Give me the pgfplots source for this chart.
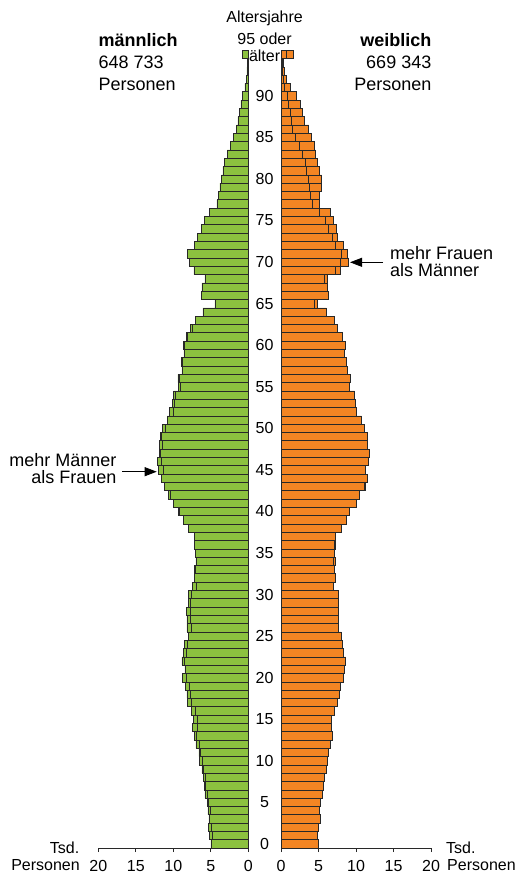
\documentclass[border=0pt]{standalone}
\usepackage{pgfplots}
\pgfplotsset{compat=1.18}
\usepackage{pgfplotstable}
\usepackage{fontspec}
\setmainfont{Liberation Sans}
\usetikzlibrary{arrows.meta}
\definecolor{mgreen}{RGB}{140,193,63}
\definecolor{forange}{RGB}{243,133,35}
\definecolor{edge}{RGB}{40,40,40}
\newcommand\hfont{\fontsize{18}{17.3}\selectfont}
\newcommand\mfont{\fontsize{16}{18}\selectfont}

\pgfplotstableread{
age m f mn
0 5.0 5.0 5.0
1 5.2 4.85 4.85
2 5.3 5.0 5.0
3 5.25 5.2 5.2
4 5.4 5.05 5.05
5 5.5 5.3 5.3
6 5.8 5.5 5.5
7 5.9 5.7 5.7
8 6.0 5.8 5.8
9 6.2 6.0 6.0
10 6.5 6.2 6.2
11 6.6 6.35 6.35
12 7.0 6.6 6.6
13 7.2 6.9 6.9
14 7.5 6.75 6.75
15 7.3 6.75 6.75
16 7.55 7.1 7.1
17 8.1 7.55 7.55
18 8.2 7.8 7.8
19 8.35 7.9 7.9
20 8.75 8.3 8.3
21 8.45 8.4 8.4
22 8.85 8.6 8.6
23 8.65 8.3 8.3
24 8.5 8.2 8.2
25 8.0 8.05 8.0
26 8.2 7.65 7.65
27 8.2 7.7 7.7
28 8.25 7.7 7.7
29 8.0 7.7 7.7
30 7.95 7.6 7.6
31 7.45 7.0 7.0
32 7.2 7.25 7.2
33 7.15 7.1 7.1
34 7.0 7.25 7.0
35 7.05 7.1 7.05
36 7.15 7.3 7.15
37 7.2 7.3 7.2
38 8.0 8.1 8.0
39 8.65 8.7 8.65
40 9.3 9.15 9.15
41 10.0 10.1 10.0
42 10.7 10.45 10.45
43 11.15 11.25 11.15
44 11.6 11.55 11.55
45 12.0 11.3 11.3
46 12.1 11.6 11.6
47 11.9 11.8 11.8
48 11.9 11.5 11.5
49 11.7 11.55 11.55
50 11.5 11.05 11.05
51 10.8 10.75 10.75
52 10.5 10.05 10.05
53 10.1 9.85 9.85
54 9.95 9.8 9.8
55 9.3 9.1 9.1
56 9.4 9.2 9.2
57 8.85 8.9 8.85
58 8.9 8.75 8.75
59 8.6 8.5 8.5
60 8.7 8.6 8.6
61 8.3 8.15 8.15
62 7.75 7.5 7.5
63 7.05 7.15 7.05
64 6.05 6.05 6.05
65 4.45 4.8 4.45
66 6.3 6.35 6.3
67 6.2 6.2 6.2
68 5.8 6.2 5.8
69 7.25 7.9 7.25
70 7.9 9.0 7.9
71 8.1 8.85 8.1
72 7.2 8.3 7.2
73 6.8 7.55 6.8
74 6.3 7.4 6.3
75 5.85 7.0 5.85
76 5.15 6.55 5.15
77 4.2 5.1 4.2
78 3.95 5.1 3.95
79 3.8 5.35 3.8
80 3.6 5.4 3.6
81 3.4 5.1 3.4
82 3.2 4.85 3.2
83 2.8 4.6 2.8
84 2.4 4.45 2.4
85 1.95 4.1 1.95
86 1.55 3.7 1.55
87 1.4 3.1 1.4
88 1.2 2.9 1.2
89 1.0 2.6 1.0
90 0.8 2.1 0.8
91 0.45 1.2 0.45
92 0.3 0.65 0.3
93 0.2 0.4 0.2
94 0.15 0.25 0.15
95 0.75 1.65 0.75
}\pop

\begin{document}
\begin{tikzpicture}[x=1pt,y=1pt]
\useasboundingbox (0,0) rectangle (515,-874);
\pgfplotsset{pyr/.style={
  scale only axis, width=150pt, height=797.8pt,
  xmin=0, xmax=20, ymin=-0.5, ymax=95.5, clip=false,
  axis x line*=bottom, xtick={0,5,...,20}, xtick align=outside,
  major tick length=4pt,
  tick style={edge, line width=0.7pt},
  axis line style={edge, line width=0.7pt},
  /pgf/number format/assume math mode=true,
  ticklabel style={font=\mfont},
  xticklabel style={yshift=-4.5pt},
}}
\begin{axis}[pyr, at={(173.3pt,-848pt)}, anchor=south, x dir=reverse,
  axis y line=none, ytick=\empty]
\addplot[xbar, bar width=8.31pt, bar shift=0pt, fill=mgreen, draw=edge, line width=0.6pt] table[x=m,y=age]{\pop};
\addplot[xbar, bar width=8.31pt, bar shift=0pt, fill=none, draw=edge, line width=0.6pt] table[x=mn,y=age]{\pop};
\draw[edge, line width=0.8pt] (axis cs:0,-0.5) -- (axis cs:0,95.5);
\end{axis}
\begin{axis}[pyr, at={(356pt,-848pt)}, anchor=south,
  axis y line*=left, ytick={0,5,...,90}, ytick style={draw=none},
  yticklabel style={anchor=center, xshift=-16.5pt}]
\addplot[xbar, bar width=8.31pt, bar shift=0pt, fill=forange, draw=edge, line width=0.6pt] table[x=f,y=age]{\pop};
\addplot[xbar, bar width=8.31pt, bar shift=0pt, fill=none, draw=edge, line width=0.6pt] table[x=mn,y=age]{\pop};
\end{axis}
% headers
\node[anchor=base west, inner sep=0, font=\hfont\bfseries] at (98.3,-47) {männlich};
\node[anchor=base west, inner sep=0, font=\hfont] at (98.3,-69) {648 733};
\node[anchor=base west, inner sep=0, font=\hfont] at (98.3,-91) {Personen};
\node[anchor=base east, inner sep=0, font=\hfont\bfseries] at (431.5,-47) {weiblich};
\node[anchor=base east, inner sep=0, font=\hfont] at (431.5,-69) {669 343};
\node[anchor=base east, inner sep=0, font=\hfont] at (431.5,-91) {Personen};
\node[anchor=base, inner sep=0, font=\mfont] at (264.6,-22.5) {Altersjahre};
\node[anchor=base, inner sep=0, font=\mfont] at (264.6,-44.5) {95 oder};
\node[anchor=base, inner sep=0, font=\mfont] at (264.6,-61.5) {älter};
% annotations
\node[anchor=base west, inner sep=0, font=\hfont] at (390,-259.3) {mehr Frauen};
\node[anchor=base west, inner sep=0, font=\hfont] at (390,-276.7) {als Männer};
\draw[-{Triangle[length=12pt,width=9pt]}, line width=0.8pt] (383,-262.3) -- (350,-262.3);
\node[anchor=base east, inner sep=0, font=\hfont] at (116.7,-466) {mehr Männer};
\node[anchor=base east, inner sep=0, font=\hfont] at (116.7,-483) {als Frauen};
\draw[-{Triangle[length=12pt,width=9pt]}, line width=0.8pt] (122,-471.7) -- (156.7,-471.7);
% axis units
\node[anchor=base east, inner sep=0, font=\mfont] at (79.5,-853) {Tsd.};
\node[anchor=base east, inner sep=0, font=\mfont] at (80,-870) {Personen};
\node[anchor=base west, inner sep=0, font=\mfont] at (446,-853) {Tsd.};
\node[anchor=base west, inner sep=0, font=\mfont] at (447,-870) {Personen};
\end{tikzpicture}
\end{document}
